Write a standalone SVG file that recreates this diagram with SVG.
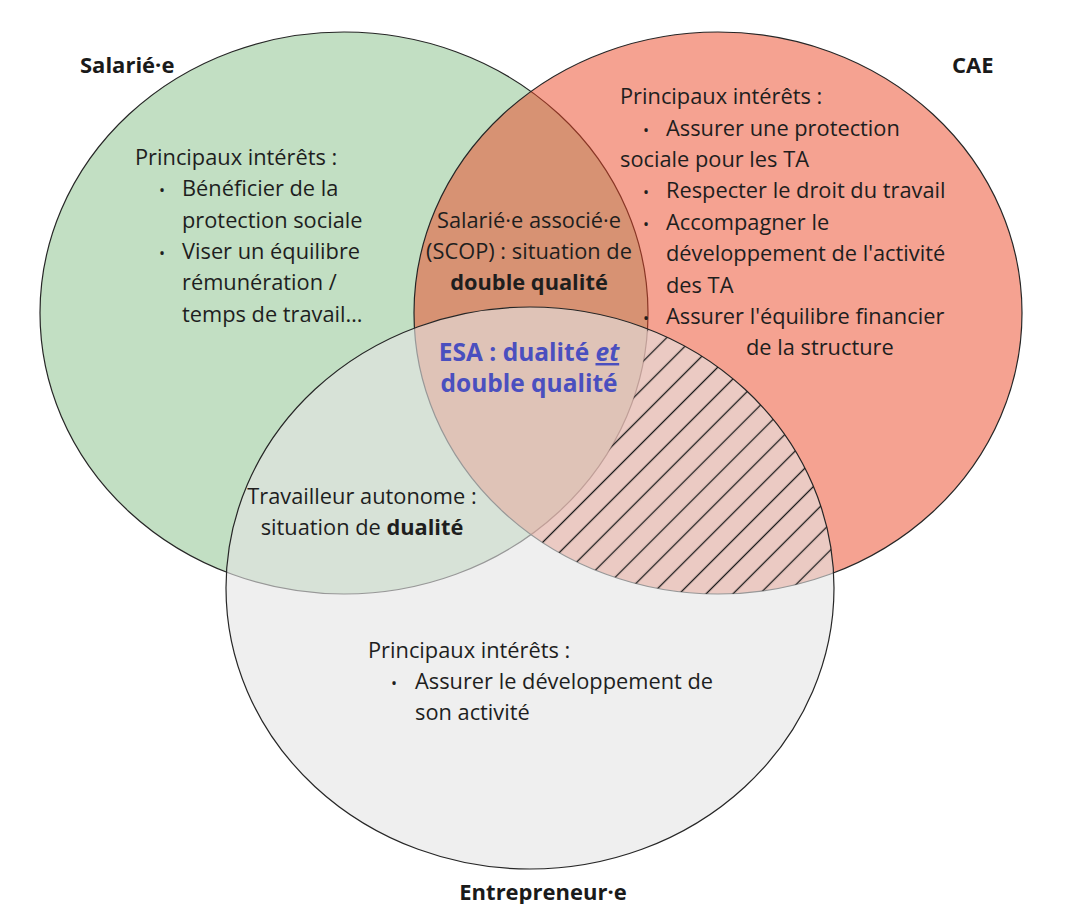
<svg xmlns="http://www.w3.org/2000/svg" width="1082" height="904" viewBox="0 0 1082 904">
<defs>
<style>
.t{font-family:"Open Sans","Noto Sans","Liberation Sans",sans-serif;font-size:21.8px;fill:#1e1e1e}
.b{font-weight:700}
.lbl{font-family:"Open Sans","Noto Sans","Liberation Sans",sans-serif;font-size:22px;font-weight:700;fill:#1a1a1a}
.bul{font-size:16px;text-anchor:middle}
.c{text-anchor:middle}
.blue{fill:#4a4fbf;font-weight:700;font-size:24.5px}
.ring{stroke:#262626;stroke-width:1.2}
</style>
<clipPath id="clipRed"><ellipse cx="718" cy="313" rx="304" ry="281"/></clipPath>
<clipPath id="clipGray"><ellipse cx="530" cy="588" rx="304" ry="281"/></clipPath>
<mask id="noGreen" maskUnits="userSpaceOnUse" x="0" y="0" width="1082" height="904">
<rect x="0" y="0" width="1082" height="904" fill="#fff"/>
<ellipse cx="344" cy="313" rx="304" ry="281" fill="#000"/>
</mask>
<pattern id="hatch" patternUnits="userSpaceOnUse" width="20" height="19" patternTransform="translate(615 470) rotate(-45) translate(0 -9.5)">
<line x1="0" y1="9.5" x2="20" y2="9.5" stroke="#1a1a1a" stroke-width="1.3"/>
</pattern>
</defs>
<rect width="1082" height="904" fill="#ffffff"/>

<g id="salarie">
<ellipse class="ring" cx="344" cy="313" rx="304" ry="281" fill="#c2dfc3"/>
</g>
<g id="cae">
<ellipse class="ring" cx="718" cy="313" rx="304" ry="281" fill="#eb4523" fill-opacity="0.5"/>
</g>
<g id="entrepreneur">
<ellipse class="ring" cx="530" cy="588" rx="304" ry="281" fill="#e5e5e5" fill-opacity="0.6"/>
</g>
<g id="hatched-zone" clip-path="url(#clipRed)">
<g clip-path="url(#clipGray)">
<rect x="0" y="0" width="1082" height="904" fill="url(#hatch)" mask="url(#noGreen)"/>
</g>
</g>

<g id="salarie-text">
<text class="lbl" x="80" y="73">Salarié·e</text>
<text class="t" x="135" y="165">Principaux intérêts :</text>
<text class="t bul" x="162" y="196">•</text>
<text class="t" x="182" y="196">Bénéficier de la</text>
<text class="t" x="182" y="227.5">protection sociale</text>
<text class="t bul" x="162" y="259">•</text>
<text class="t" x="182" y="259">Viser un équilibre</text>
<text class="t" x="182" y="290">rémunération /</text>
<text class="t" x="182" y="321.5">temps de travail…</text>
</g>

<g id="cae-text">
<text class="lbl" x="952" y="73">CAE</text>
<text class="t" x="620" y="104">Principaux intérêts :</text>
<text class="t bul" x="646" y="136">•</text>
<text class="t" x="666" y="136">Assurer une protection</text>
<text class="t" x="620" y="167">sociale pour les TA</text>
<text class="t bul" x="646" y="198">•</text>
<text class="t" x="666" y="198">Respecter le droit du travail</text>
<text class="t bul" x="646" y="230">•</text>
<text class="t" x="666" y="230">Accompagner le</text>
<text class="t" x="666" y="261">développement de l'activité</text>
<text class="t" x="666" y="293">des TA</text>
<text class="t bul" x="646" y="324">•</text>
<text class="t" x="666" y="324">Assurer l'équilibre financier</text>
<text class="t" x="746" y="355">de la structure</text>
</g>

<g id="entrepreneur-text">
<text class="lbl c" x="543" y="900">Entrepreneur·e</text>
<text class="t" x="368" y="658">Principaux intérêts :</text>
<text class="t bul" x="394" y="689">•</text>
<text class="t" x="415" y="689">Assurer le développement de</text>
<text class="t" x="415" y="720">son activité</text>
</g>

<g id="salarie-associe">
<text class="t c" x="529" y="228">Salarié·e associé·e</text>
<text class="t c" x="529" y="259">(SCOP) : situation de</text>
<text class="t c b" x="529" y="290">double qualité</text>
</g>

<g id="esa">
<text class="t c blue" x="529" y="361">ESA : dualité <tspan font-style="italic" text-decoration="underline">et</tspan></text>
<text class="t c blue" x="529" y="392">double qualité</text>
</g>

<g id="travailleur-autonome">
<text class="t c" x="362" y="504">Travailleur autonome :</text>
<text class="t c" x="362" y="535">situation de <tspan class="b">dualité</tspan></text>
</g>
</svg>
